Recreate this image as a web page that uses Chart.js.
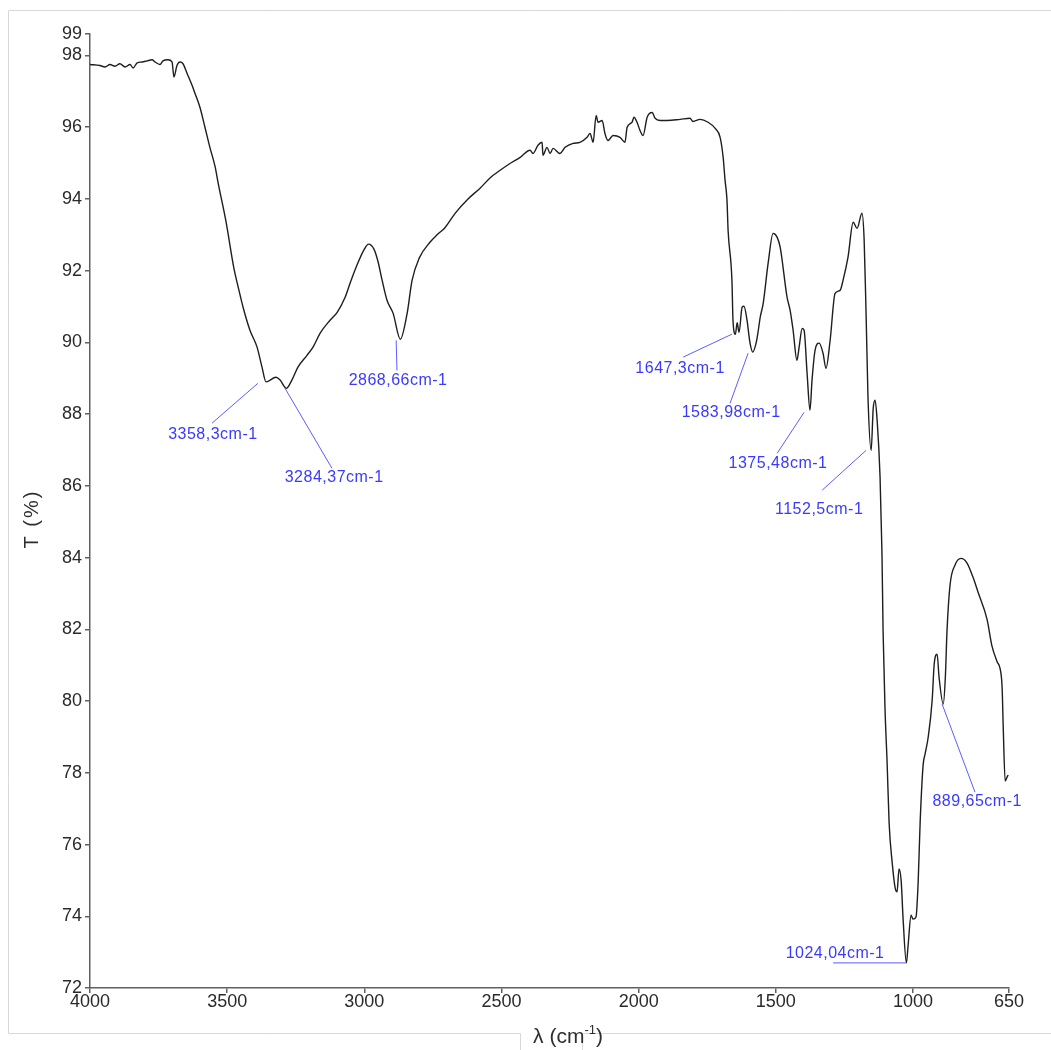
<!DOCTYPE html>
<html>
<head>
<meta charset="utf-8">
<script src="https://cdn.jsdelivr.net/npm/chart.js@4.4.1/dist/chart.umd.min.js"></script>
<style>
  html, body { margin: 0; padding: 0; background: #ffffff; }
  #wrap { position: relative; width: 1051px; height: 1050px; }
</style>
</head>
<body>
<div id="wrap"><canvas id="ftir"></canvas></div>
<script>
// FTIR spectrum: wavenumber (cm-1) and transmittance (%)
const wavenumber = [
  4000, 3964, 3945, 3927, 3909, 3891, 3872, 3854, 3843, 3829, 3810, 3792, 3774, 3763, 3745, 3734,
  3716, 3701, 3694, 3683, 3672, 3661, 3646, 3628, 3617, 3599, 3581, 3563, 3544, 3533, 3505, 3475,
  3460, 3442, 3417, 3391, 3373, 3358.3, 3322, 3307, 3284.37, 3264, 3242, 3209, 3187, 3161, 3125,
  3099, 3070, 3052, 3027, 3000, 2985, 2965, 2950, 2935, 2917, 2895, 2868.66, 2844, 2826, 2800,
  2760, 2735, 2706, 2669, 2622, 2578, 2540, 2505, 2469, 2432, 2396, 2385, 2367, 2352, 2349, 2334,
  2323, 2312, 2287, 2268, 2239, 2214, 2188, 2177, 2166, 2155, 2148, 2133, 2123, 2112, 2093, 2068,
  2050, 2042, 2024, 2017, 2006, 1995, 1984, 1969, 1951, 1940, 1922, 1896, 1849, 1813, 1802, 1776,
  1747, 1721, 1703, 1692, 1685, 1678, 1674, 1660, 1656, 1647.3, 1641, 1634, 1623, 1616, 1605, 1594,
  1583.98, 1572, 1565, 1557, 1546, 1528, 1510, 1495, 1484, 1459, 1448, 1437, 1423, 1415, 1404, 1397,
  1386, 1375.48, 1368, 1357, 1342, 1328, 1317, 1302, 1284, 1266, 1255, 1237, 1218, 1204, 1186, 1178,
  1171, 1164, 1152.5, 1145, 1138, 1131, 1120, 1113, 1109, 1102, 1094, 1087, 1076, 1065, 1058, 1051,
  1043, 1036, 1024.04, 1018, 1007, 1000, 989, 981, 974, 963, 956, 945, 930, 923, 912, 905,
  889.65, 882, 876, 865, 847, 825, 803, 781, 763, 730, 712, 693, 682, 675, 671, 664, 657, 653
];
const transmittance = [
  97.75, 97.72, 97.68, 97.75, 97.70, 97.77, 97.68, 97.75, 97.65, 97.79, 97.82, 97.85, 97.88, 97.82, 97.75, 97.85,
  97.88, 97.82, 97.40, 97.72, 97.82, 97.77, 97.50, 97.17, 96.94, 96.55, 96.00, 95.44, 94.90, 94.45, 93.40, 92.05,
  91.55, 90.98, 90.34, 89.87, 89.31, 88.90, 89.03, 88.95, 88.72, 88.95, 89.31, 89.64, 89.87, 90.26, 90.62,
  90.84, 91.26, 91.65, 92.15, 92.60, 92.74, 92.60, 92.25, 91.73, 91.17, 90.81, 90.09, 90.81, 91.73, 92.35,
  92.80, 93.00, 93.20, 93.60, 94.00, 94.30, 94.60, 94.80, 94.99, 95.16, 95.36, 95.27, 95.50, 95.58, 95.22, 95.44,
  95.27, 95.41, 95.27, 95.44, 95.55, 95.58, 95.72, 95.83, 95.58, 96.33, 96.14, 96.19, 95.83, 95.63, 95.77, 95.72,
  95.58, 96.00, 96.14, 96.28, 96.14, 95.91, 95.77, 96.28, 96.41, 96.25, 96.19, 96.19, 96.22, 96.25, 96.16, 96.22,
  96.14, 95.97, 95.72, 95.16, 94.52, 93.96, 93.13, 91.73, 90.60, 90.23, 90.55, 90.28, 90.98, 91.01, 90.62, 89.98,
  89.73, 89.98, 90.28, 90.70, 91.09, 92.21, 93.04, 92.93, 92.65, 91.26, 90.90, 90.34, 89.50, 89.87, 90.39, 90.34,
  89.14, 88.11, 88.95, 89.78, 89.98, 89.70, 89.28, 90.06, 91.37, 91.45, 91.73, 92.37, 93.35, 93.18, 93.60, 92.85,
  90.81, 88.47, 86.99, 88.16, 88.39, 87.86, 86.24, 84.10, 81.95, 79.80, 78.22, 76.60, 75.51, 74.79, 74.68, 75.32,
  74.98, 73.92, 72.70, 73.17, 74.03, 73.92, 73.98, 74.98, 76.60, 78.22, 78.52, 78.97, 80.03, 81.00, 81.31, 80.67,
  79.92, 80.67, 81.95, 83.23, 83.79, 83.98, 83.85, 83.45, 83.04, 82.28, 81.53, 81.09, 80.89, 80.36, 79.27, 77.77, 77.88, 77.94
];

// Axis ticks
const xTicks = [4000, 3500, 3000, 2500, 2000, 1500, 1000, 650];
const yTicks = [72, 74, 76, 78, 80, 82, 84, 86, 88, 90, 92, 94, 96, 98, 98.6];

// Peak labels: text, leader start, leader end, text centre (wavenumber, T)
const peakText = ['3358,3cm-1', '3284,37cm-1', '2868,66cm-1', '1647,3cm-1', '1583,98cm-1',
                  '1375,48cm-1', '1152,5cm-1', '1024,04cm-1', '889,65cm-1'];
const leaderFrom = [[3388, 88.86], [3289, 88.72], [2884, 90.06], [1660, 90.23], [1601, 89.70],
                    [1397, 88.05], [1171, 86.99], [1024.04, 72.70], [894, 79.92]];
const leaderTo = [[3555, 87.75], [3118, 86.49], [2881, 89.22], [1838, 89.59], [1667, 88.30],
                  [1495, 86.91], [1331, 85.88], [1291, 72.70], [774, 77.46]];
const labelAt = [[3552, 87.44], [3110, 86.24], [2877, 88.95], [1849, 89.28], [1663, 88.03],
                 [1492, 86.63], [1342, 85.35], [1284, 72.95], [766, 77.21]];

const FONT = "'Liberation Sans', Arial, sans-serif";
const AXIS_GREY = '#606060';

const points = wavenumber.map((w, i) => ({ x: w, y: transmittance[i] }));

// Light frame around the figure, open under the x-axis title
const framePlugin = {
  id: 'frame',
  beforeDraw(chart) {
    const ctx = chart.ctx;
    ctx.save();
    ctx.strokeStyle = '#d8d8d8';
    ctx.lineWidth = 1;
    ctx.beginPath();
    ctx.moveTo(1051, 10.5); ctx.lineTo(8.5, 10.5); ctx.lineTo(8.5, 1033.5); ctx.lineTo(520.5, 1033.5);
    ctx.lineTo(520.5, 1050);
    ctx.moveTo(582.5, 1050); ctx.lineTo(582.5, 1033.5); ctx.lineTo(1051, 1033.5);
    ctx.stroke();
    ctx.restore();
  }
};

// Axis titles (x title has a superscript)
const titlePlugin = {
  id: 'axisTitles',
  afterDraw(chart) {
    const ctx = chart.ctx;
    ctx.save();
    ctx.fillStyle = '#2e2e2e';
    ctx.translate(32, 519);
    ctx.rotate(-Math.PI / 2);
    ctx.font = '20px ' + FONT;
    ctx.letterSpacing = '2px';
    ctx.textAlign = 'center';
    ctx.textBaseline = 'middle';
    ctx.fillText('T (%)', 0, 0);
    ctx.restore();

    ctx.save();
    ctx.fillStyle = '#2e2e2e';
    ctx.textBaseline = 'alphabetic';
    ctx.textAlign = 'left';
    const main = '21px ' + FONT, sup = '13px ' + FONT;
    ctx.font = main;
    const w1 = ctx.measureText('λ (cm').width;
    const w3 = ctx.measureText(')').width;
    ctx.font = sup;
    const w2 = ctx.measureText('-1').width;
    let x = 568 - (w1 + w2 + w3) / 2;
    const base = 1043;
    ctx.font = main; ctx.fillText('λ (cm', x, base); x += w1;
    ctx.font = sup; ctx.fillText('-1', x, base - 9); x += w2;
    ctx.font = main; ctx.fillText(')', x, base);
    ctx.restore();
  }
};

// Peak labels with leader lines, placed in data coordinates
const peakPlugin = {
  id: 'peaks',
  afterDatasetsDraw(chart) {
    const ctx = chart.ctx;
    const xs = chart.scales.x, ys = chart.scales.y;
    ctx.save();
    ctx.strokeStyle = '#5c5cff';
    ctx.lineWidth = 1;
    ctx.fillStyle = '#3a3aff';
    ctx.font = '16px ' + FONT;
    ctx.letterSpacing = '0.5px';
    ctx.textAlign = 'center';
    ctx.textBaseline = 'middle';
    peakText.forEach((t, i) => {
      const a = leaderFrom[i], b = leaderTo[i], c = labelAt[i];
      ctx.beginPath();
      ctx.moveTo(xs.getPixelForValue(a[0]), ys.getPixelForValue(a[1]));
      ctx.lineTo(xs.getPixelForValue(b[0]), ys.getPixelForValue(b[1]));
      ctx.stroke();
      ctx.fillText(t, xs.getPixelForValue(c[0]), ys.getPixelForValue(c[1]));
    });
    ctx.restore();
  }
};

new Chart(document.getElementById('ftir'), {
  type: 'line',
  data: {
    datasets: [{
      data: points,
      borderColor: '#1e1e1e',
      borderWidth: 1.4,
      pointRadius: 0,
      fill: false,
      cubicInterpolationMode: 'monotone'
    }]
  },
  options: {
    responsive: true,
    maintainAspectRatio: false,
    animation: false,
    events: [],
    layout: { padding: { top: 34, right: 42, left: 0, bottom: 0 } },
    plugins: { legend: { display: false }, tooltip: { enabled: false } },
    scales: {
      x: {
        type: 'linear',
        reverse: true,
        min: 650,
        max: 4000,
        afterBuildTicks(scale) { scale.ticks = xTicks.map(v => ({ value: v })); },
        afterFit(scale) { scale.height = 62; },
        grid: { drawOnChartArea: false, drawTicks: true, tickLength: 5, color: AXIS_GREY, lineWidth: 1.5 },
        border: { color: AXIS_GREY, width: 1.5 },
        ticks: { autoSkip: false, maxRotation: 0, padding: -2, color: '#2a2a2a',
                 font: { family: FONT, size: 18 }, callback: v => String(v) }
      },
      y: {
        type: 'linear',
        min: 72,
        max: 98.6,
        afterBuildTicks(scale) { scale.ticks = yTicks.map(v => ({ value: v })); },
        afterFit(scale) { scale.width = 90; },
        grid: { drawOnChartArea: false, drawTicks: true, tickLength: 5, color: AXIS_GREY, lineWidth: 1.5 },
        border: { color: AXIS_GREY, width: 1.5 },
        ticks: { autoSkip: false, padding: 3, color: '#2a2a2a',
                 font: { family: FONT, size: 18 }, callback: v => String(Math.round(v)) }
      }
    }
  },
  plugins: [framePlugin, peakPlugin, titlePlugin]
});
</script>
</body>
</html>
